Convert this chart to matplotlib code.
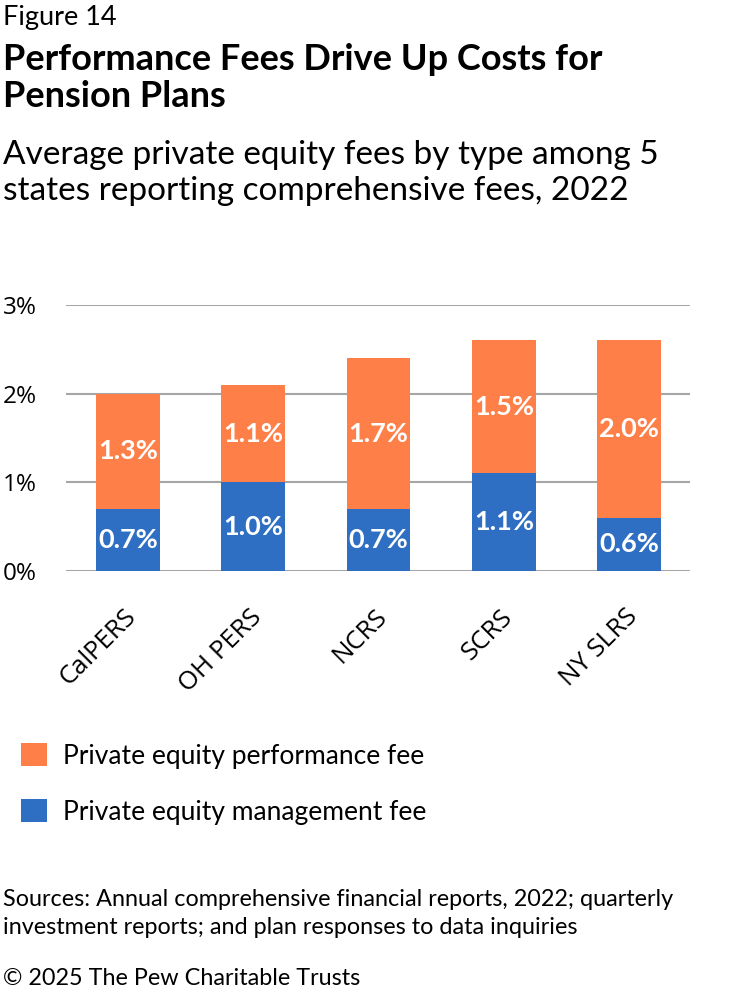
import numpy as np
import matplotlib.pyplot as plt
from matplotlib import rcParams
import matplotlib.transforms as mtransforms

rcParams.update({'font.family': ['Lato', 'DejaVu Sans']})

plans = ['CalPERS', 'OH PERS', 'NCRS', 'SCRS', 'NY SLRS']
mgmt_fee = [0.7, 1.0, 0.7, 1.1, 0.6]
perf_fee = [1.3, 1.1, 1.7, 1.5, 2.0]
yticks = [0, 1, 2, 3]

orange = '#FF7F48'
blue = '#2E6FC4'

W, H = 732, 996
fig = plt.figure(figsize=(W / 100, H / 100), dpi=100)
ax = fig.add_axes([66 / W, 1 - 571 / H, (690 - 66) / W, (571 - 305) / H])

ind = np.arange(len(plans))
width = 0.51
b1 = ax.bar(ind, mgmt_fee, width, color=blue, zorder=3)
b2 = ax.bar(ind, perf_fee, width, bottom=mgmt_fee, color=orange, zorder=3)

for rects, vals, bots in ((b1, mgmt_fee, [0] * 5), (b2, perf_fee, mgmt_fee)):
    for r, v, b in zip(rects, vals, bots):
        ax.text(r.get_x() + r.get_width() / 2, b + v / 2, '%.1f%%' % v,
                ha='center', va='center', color='white', fontsize=19.5,
                fontweight='bold', zorder=4)

ax.set_xlim(-0.494, 4.486)
ax.set_ylim(0, 3)
ax.set_yticks(yticks)
ax.set_yticklabels(['%d%%' % t for t in yticks], fontsize=17.5, family='Open Sans')
ax.yaxis.grid(True, color='#A6A6A6', linewidth=1.5, zorder=0)
for s in ax.spines.values():
    s.set_visible(False)
ax.tick_params(axis='y', length=0, pad=21)
ax.tick_params(axis='x', length=0, pad=24)
ax.set_xticks(ind)
ax.set_xticklabels(plans, fontsize=18.5, family='Open Sans', rotation=45,
                   ha='right', va='top', rotation_mode='anchor')
offset = mtransforms.ScaledTranslation(-4 / 100, 0, fig.dpi_scale_trans)
for lab in ax.get_xticklabels():
    lab.set_transform(lab.get_transform() + offset)

fig.legend([b2[0], b1[0]],
           ['Private equity performance fee', 'Private equity management fee'],
           loc='upper left', bbox_to_anchor=(21 / W, 1 - 743 / H), frameon=False,
           fontsize=19, handlelength=0.98, handleheight=0.98, labelspacing=1.15,
           handletextpad=0.6, borderpad=0, borderaxespad=0)

fig.text(3 / W, 1 - 5 / H, 'Figure 14', fontsize=19.5, va='top', ha='left')
fig.text(3 / W, 1 - 43 / H, 'Performance Fees Drive Up Costs for\nPension Plans',
         fontsize=26, fontweight='bold', va='top', ha='left', linespacing=1.14)
fig.text(3 / W, 1 - 140 / H,
         'Average private equity fees by type among 5\nstates reporting comprehensive fees, 2022',
         fontsize=24, va='top', ha='left', linespacing=1.26)
fig.text(3 / W, 1 - 889 / H,
         'Sources: Annual comprehensive financial reports, 2022; quarterly\n'
         'investment reports; and plan responses to data inquiries',
         fontsize=16.8, va='top', ha='left', linespacing=1.42)
fig.text(3 / W, 1 - 968 / H, '\u00a9 2025 The Pew Charitable Trusts',
         fontsize=16.8, va='top', ha='left')

fig.savefig('out.png', dpi=100)
